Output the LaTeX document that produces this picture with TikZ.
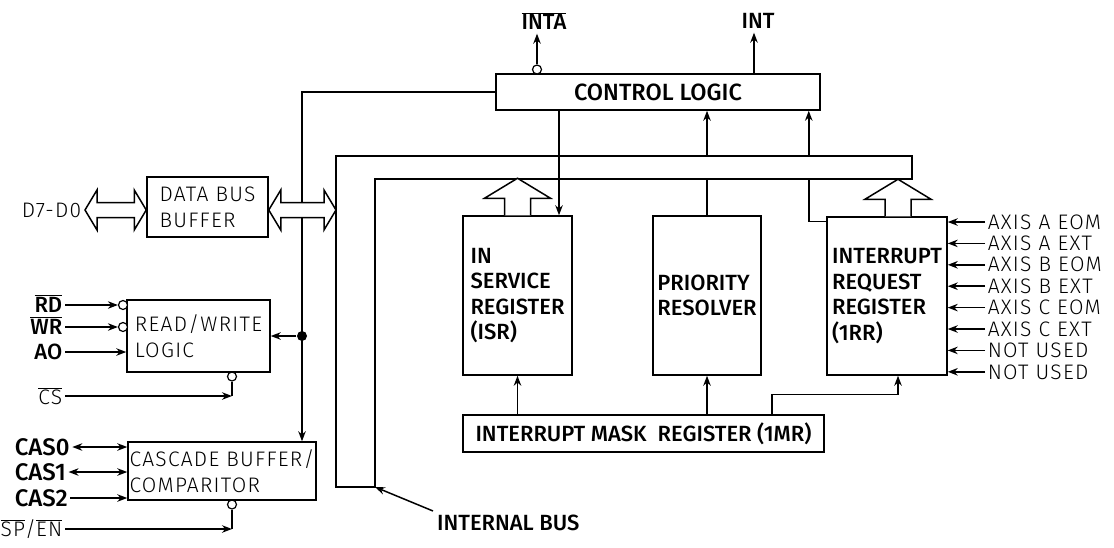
\documentclass[tikz,border=0pt]{standalone}
\usepackage{fontspec}
\setmainfont{Fira Sans}
\newfontfamily\lightfont[LetterSpace=6]{Fira Sans Light}
\newfontfamily\medfont{Fira Sans Medium}
\usetikzlibrary{arrows.meta,positioning,calc}
\newcommand{\ovl}[1]{$\overline{\mbox{#1}}$}
% hollow arrows
\newcommand{\fatup}[1]{\draw[fill=white] ($(#1)+(-13,0)$) -- ++(0,-17) -- ++(-20,0) -- ++(33,-20) -- ++(33,20) -- ++(-20,0) -- ++(0,17);}
\newcommand{\fatdbl}[2]{\draw[fill=white] (#1) -- ++(12,-20) -- ++(0,12.5) -- ($(#2)+(-12,-7.5)$) -- ++(0,-12.5) -- (#2) -- ++(-12,20) -- ++(0,-12.5) -- ($(#1)+(12,7.5)$) -- ++(0,12.5) -- cycle;}

\tikzset{
  blk/.style={draw, rectangle, inner sep=0pt},
  lite/.style={font=\lightfont\fontsize{21}{26}\selectfont},
  med/.style={font=\medfont\fontsize{22}{25.5}\selectfont},
  sig/.style={-{Stealth[length=10pt,width=7.5pt]}},
  sigboth/.style={{Stealth[length=10pt,width=7.5pt]}-{Stealth[length=10pt,width=7.5pt]}},
  bub/.style={draw, circle, fill=white, minimum size=9pt, inner sep=0pt, line width=1.2pt},
  junc/.style={circle, fill=black, minimum size=10pt, inner sep=0pt},
}

\begin{document}
\begin{tikzpicture}[x=1pt, y=-1pt, line width=1.5pt]
\useasboundingbox (0,0) rectangle (1114,547);

% blocks
\node[blk, med, font=\medfont\fontsize{23.5}{26}\selectfont, minimum width=324pt, minimum height=36pt] (ctrl) at (658,92) {CONTROL LOGIC};
\node[blk, lite, minimum width=121pt, minimum height=60pt, align=left] (dbb) at (207.5,207) {DATA BUS\\BUFFER};
\node[blk, lite, minimum width=143pt, minimum height=72pt, align=left] (rw) at (198.5,336) {READ/WRITE\\LOGIC};
\node[blk, lite, minimum width=188pt, minimum height=58pt, align=left] (cas) at (222,471) {CASCADE BUFFER/\\COMPARITOR};
\node[blk, med, minimum width=109pt, minimum height=159pt, align=left] (isr) at (517.5,295.5) {IN\\SERVICE\\REGISTER\\(ISR)};
\node[blk, med, minimum width=108pt, minimum height=159pt, align=left] (pr) at (707,295.5) {PRIORITY\\RESOLVER};
\node[blk, med, minimum width=120pt, minimum height=158pt, align=left] (irr) at (887,296) {INTERRUPT\\REQUEST\\REGISTER\\(1RR)};
\node[blk, med, minimum width=361pt, minimum height=37pt] (imr) at (643.5,433.5) {INTERRUPT MASK\ \ REGISTER (1MR)};

% internal bus
\coordinate (bout) at (336,156);
\coordinate (bin) at (375,179);
\coordinate (bcorner) at (375,487);
\draw (bcorner) -- (336,487) -- (bout) -- (912,156) -- (912,179) -- (bin) -- cycle;
\node[med, anchor=west] (ibus) at (433,523) {INTERNAL BUS};
\draw[sig] (ibus.north west) -- (bcorner);

% control logic outputs
\node[bub] (intab) at (537,69.5) {};
\node[med] (inta) at (544,21) {\ovl{INTA}};
\draw[sig] (intab.north) -- (intab.north |- inta.south);
\node[med] (int) at (758,21) {INT};
\draw[sig] ([xshift=96pt]ctrl.north) -- ([xshift=96pt]ctrl.north |- int.south);

% control logic to read/write and cascade
\node[junc] (jn) at (302,336) {};
\draw[sig] (ctrl.west) -| (jn.center |- cas.north);
\draw[sig] (jn) -- (rw.east);

% data bus
\node[lite, anchor=east, inner sep=3pt] (dbus) at (85,210) {D7-D0};
\coordinate (dbbw) at (dbb.west |- dbus.east);
\coordinate (dbbe) at (dbb.east |- dbus.east);
\coordinate (bus0) at (bout |- dbus.east);
\fatdbl{dbus.east}{dbbw}
\fatdbl{dbbe}{bus0}

% bus to blocks
\coordinate (tapc) at ([xshift=-12pt]ctrl.south east);
\draw[sig] ([xshift=-99pt]ctrl.south) -- ([xshift=-99pt]ctrl.south |- isr.north);
\draw[sig] (pr.north |- bout) -- (pr.north |- ctrl.south);
\draw (pr.north) -- (pr.north |- bin);
\draw[sig] (tapc |- bout) -- (tapc);
\draw ([yshift=-5pt]irr.north west) -| (tapc |- bin);
\coordinate (irrtop) at ([xshift=11pt]irr.north);
\fatup{isr.north}
\fatup{irrtop}

% mask register
\draw[sig] (imr.north -| isr.south) -- (isr.south);
\draw[sig] (imr.north -| pr.south) -- (pr.south);
\draw[sig] ([xshift=128.5pt]imr.north) -- ++(0,-20) -| ([xshift=11pt]irr.south);

% interrupt inputs
\foreach \txt [count=\i] in {AXIS A EOM, AXIS A EXT, AXIS B EOM, AXIS B EXT, AXIS C EOM, AXIS C EXT, NOT USED, NOT USED} {
  \node[lite, anchor=west, inner sep=2pt] (ax\i) at (985, 200.6+21.4*\i) {\txt};
  \draw[sig] (ax\i.west) -- (ax\i.west -| irr.east);
}

% read/write inputs
\node[bub] (rdb) at (123,305) {};
\node[bub] (wrb) at (123,327) {};
\node[med, anchor=base east, inner sep=2pt] (rd) at (65,312) {\ovl{RD}};
\node[med, anchor=base east, inner sep=2pt] (wr) at (65,334) {\ovl{WR}};
\node[med, anchor=east, inner sep=2pt] (ao) at (65,352) {AO};
\draw[sig] (rd.east |- rdb) -- (rdb.west);
\draw[sig] (wr.east |- wrb) -- (wrb.west);
\draw[sig] (ao.east) -- (ao.east -| rw.west);
\node[bub] (csb) at (232,376.5) {};
\node[lite, anchor=east, inner sep=2pt] (cs) at (65,396) {\ovl{CS}};
\draw[sig] (cs.east) -- (cs.east -| csb.south);
\draw (csb.south) -- (cs.east -| csb.south);

% cascade inputs
\node[med, font=\medfont\fontsize{24}{26}\selectfont, anchor=west, inner sep=2pt] (cas0) at (12,447) {CAS0};
\node[med, font=\medfont\fontsize{24}{26}\selectfont, anchor=west, inner sep=2pt] (cas1) at (12,472) {CAS1};
\node[med, font=\medfont\fontsize{24}{26}\selectfont, anchor=west, inner sep=2pt] (cas2) at (12,498) {CAS2};
\draw[sigboth] (cas0.east) -- (cas0.east -| cas.west);
\draw[sigboth] (cas1.east) -- (cas1.east -| cas.west);
\draw[sig] (cas2.east) -- (cas2.east -| cas.west);
\node[bub] (enb) at (232,504.5) {};
\node[lite, anchor=east, inner sep=2pt] (spen) at (65,529) {\ovl{SP}/\ovl{EN}};
\draw[sig] (spen.east) -- (spen.east -| enb.south);
\draw (enb.south) -- (spen.east -| enb.south);
\end{tikzpicture}
\end{document}
